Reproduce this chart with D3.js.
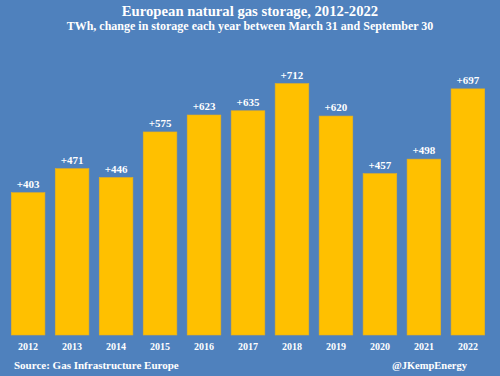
<!DOCTYPE html>
<html>
<head>
<meta charset="utf-8">
<script src="https://cdn.jsdelivr.net/npm/d3@7"></script>
<style>
  body { margin: 0; background: #4F81BD; }
  text { font-family: "Liberation Serif", "DejaVu Serif", serif; font-weight: bold; fill: #fff; }
</style>
</head>
<body>
<div id="chart"></div>
<script>
// datos del grafico
const years = ["2012", "2013", "2014", "2015", "2016", "2017", "2018", "2019", "2020", "2021", "2022"];
const storageChange = [403, 471, 446, 575, 623, 635, 712, 620, 457, 498, 697];

const width = 500;
const height = 376;

const svg = d3.select("#chart").append("svg")
    .attr("width", width)
    .attr("height", height);

svg.append("rect")
    .attr("width", width)
    .attr("height", height)
    .attr("fill", "#4F81BD");

const x = d3.scaleBand()
    .domain(years)
    .range([6, 490])
    .paddingInner(0.235)
    .paddingOuter(0.12);

const y = d3.scaleLinear()
    .domain([0, 800])
    .range([335, 52.5]);

// barras
svg.selectAll(".bar")
    .data(years)
    .enter()
    .append("rect")
    .attr("class", "bar")
    .attr("x", d => x(d))
    .attr("y", (d, i) => y(storageChange[i]))
    .attr("width", x.bandwidth())
    .attr("height", (d, i) => y(0) - y(storageChange[i]))
    .attr("fill", "#FFC000")
    .attr("stroke", "#E8B020")
    .attr("stroke-width", 0.6);

// etiquetas de valor
svg.selectAll(".label")
    .data(years)
    .enter()
    .append("text")
    .attr("class", "label")
    .attr("x", d => x(d) + x.bandwidth() / 2)
    .attr("y", (d, i) => y(storageChange[i]) - 5)
    .attr("text-anchor", "middle")
    .style("font-size", "11px")
    .text((d, i) => "+" + storageChange[i]);

// eje x (solo textos)
const xAxis = svg.append("g")
    .attr("transform", "translate(0,335)")
    .call(d3.axisBottom(x).tickSize(0).tickPadding(8));
xAxis.select(".domain").remove();
xAxis.selectAll("text")
    .style("font-size", "10px")
    .attr("fill", "#fff");

// titulos
svg.append("text")
    .attr("x", 250)
    .attr("y", 16)
    .attr("text-anchor", "middle")
    .style("font-size", "14.7px")
    .text("European natural gas storage, 2012-2022");

svg.append("text")
    .attr("x", 250)
    .attr("y", 29.5)
    .attr("text-anchor", "middle")
    .style("font-size", "12px")
    .text("TWh, change in storage each year between March 31 and September 30");

svg.append("text")
    .attr("x", 14)
    .attr("y", 369)
    .style("font-size", "11px")
    .text("Source: Gas Infrastructure Europe");

svg.append("text")
    .attr("x", 467)
    .attr("y", 369)
    .attr("text-anchor", "end")
    .style("font-size", "10.5px")
    .text("@JKempEnergy");
</script>
</body>
</html>
